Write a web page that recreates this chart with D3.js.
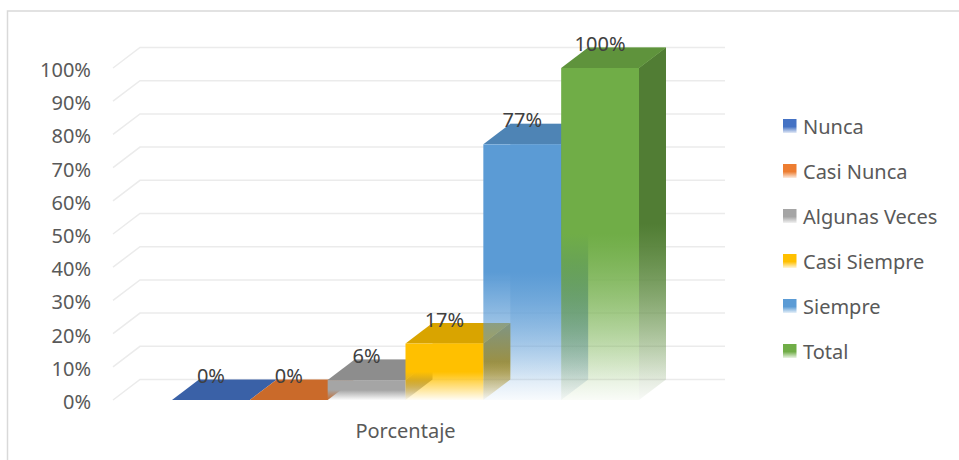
<!DOCTYPE html>
<html>
<head>
<meta charset="utf-8">
<script src="https://cdn.jsdelivr.net/npm/d3@7"></script>
<style>
  html, body { margin: 0; padding: 0; background: #fff; }
  svg { display: block; font-family: "Noto Sans", "Open Sans", sans-serif; }
</style>
</head>
<body>
<svg id="chart" width="959" height="460"></svg>
<script>
// ---- data ----
const categories = ["Porcentaje"];
const series = ["Nunca", "Casi Nunca", "Algunas Veces", "Casi Siempre", "Siempre", "Total"];
const values = [0.00, 0.00, 0.06, 0.17, 0.77, 1.00];
const valueLabels = ["0%", "0%", "6%", "17%", "77%", "100%"];
const yTicks = [0, 0.1, 0.2, 0.3, 0.4, 0.5, 0.6, 0.7, 0.8, 0.9, 1.0];

// ---- styles ----
const colors = ["#4472C4", "#ED7D31", "#A5A5A5", "#FFC000", "#5B9BD5", "#70AD47"];

const svg = d3.select("#chart");
const W = 959, H = 460;
const DX = 27, DY = 20.5;           // 3-D depth offset
const plotLeft = 113, plotRight = 698;

const y = d3.scaleLinear().domain([0, 1]).range([400, 68]);
const xCat = d3.scaleBand().domain(categories).range([172, 639]);
const xSer = d3.scaleBand().domain(series).range([xCat(categories[0]), xCat(categories[0]) + xCat.bandwidth()]);

// chart border (top & left visible)
svg.append("path")
  .attr("d", `M7.5,${H} L7.5,11 L${W},11`)
  .attr("fill", "none").attr("stroke", "#D9D9D9").attr("stroke-width", 1.5);

// gradients
const defs = svg.append("defs");
function grad(id, color, stops) {
  const g = defs.append("linearGradient").attr("id", id)
    .attr("x1", 0).attr("y1", 0).attr("x2", 0).attr("y2", 1);
  stops.forEach(s => g.append("stop").attr("offset", s[0]).attr("stop-color", color).attr("stop-opacity", s[1]));
}
const fadeStops = [[0, 1], [0.5, 1], [1, 0.04]];
const backStops = [[0, 0.9], [0.5, 0.8], [1, 0.05]];
colors.forEach((c, i) => {
  const base = d3.color(c);
  grad("front" + i, base.formatHex(), fadeStops);
  grad("side" + i, base.darker(0.9).formatHex(), fadeStops);
  grad("back" + i, d3.interpolateRgb(base, "#ffffff")(0.3), backStops);
  grad("leg" + i, base.formatHex(), [[0, 1], [0.55, 1], [1, 0.15]]);
});

// gridlines (3-D: front diagonal + back line)
const grid = svg.append("g");
yTicks.forEach(t => {
  const yf = y(t);
  grid.append("path")
    .attr("d", `M${plotLeft},${yf} L${plotLeft + DX},${yf - DY} L${plotRight + DX},${yf - DY}`)
    .attr("fill", "none").attr("stroke", "#EBEBEB").attr("stroke-width", 1.5);
});

// y axis
const yAxis = svg.append("g").attr("transform", "translate(91,0)")
  .call(d3.axisLeft(y).tickValues(yTicks).tickFormat(d3.format(".0%")).tickSize(0).tickPadding(0));
yAxis.select(".domain").remove();
yAxis.selectAll("text").attr("font-size", 20).attr("fill", "#595959")
  .attr("font-family", "Noto Sans, sans-serif").attr("dy", "0.42em");

// bars
const bars = series.map((s, i) => ({
  i, x0: xSer(s), x1: xSer(s) + xSer.bandwidth(), yt: y(values[i]), yb: y(0), v: values[i]
}));
const pts = a => a.map(p => p.join(",")).join(" ");
const g = svg.append("g");

// pass 1: back faces (visible through the fading front)
bars.filter(b => b.v > 0).forEach(b => {
  g.append("rect").attr("x", b.x0 + DX).attr("y", b.yt - DY)
    .attr("width", b.x1 - b.x0).attr("height", b.yb - b.yt)
    .attr("fill", `url(#back${b.i})`);
});

// pass 2: outer faces
bars.forEach(b => {
  const base = d3.color(colors[b.i]);
  if (b.v > 0) {
    g.append("polygon").attr("points", pts([[b.x1, b.yt], [b.x1 + DX, b.yt - DY], [b.x1 + DX, b.yb - DY], [b.x1, b.yb]]))
      .attr("fill", `url(#side${b.i})`);
  }
  g.append("polygon").attr("points", pts([[b.x0, b.yt], [b.x1, b.yt], [b.x1 + DX, b.yt - DY], [b.x0 + DX, b.yt - DY]]))
    .attr("fill", base.darker(0.45).formatHex());
  if (b.v > 0) {
    g.append("rect").attr("x", b.x0).attr("y", b.yt)
      .attr("width", b.x1 - b.x0).attr("height", b.yb - b.yt)
      .attr("fill", `url(#front${b.i})`);
  }
});

// data labels
svg.append("g").selectAll("text").data(bars).join("text")
  .attr("x", b => (b.x0 + b.x1) / 2)
  .attr("y", b => b.yt - DY + 3.5)
  .attr("text-anchor", "middle")
  .attr("font-size", 20).attr("fill", "#404040")
  .text(b => valueLabels[b.i]);

// category label
svg.append("g").selectAll("text").data(categories).join("text")
  .attr("x", d => xCat(d) + xCat.bandwidth() / 2)
  .attr("y", 438)
  .attr("text-anchor", "middle")
  .attr("font-size", 20).attr("fill", "#595959")
  .text(d => d);

// legend
const leg = svg.append("g").attr("transform", "translate(783,119)");
series.forEach((s, i) => {
  const row = leg.append("g").attr("transform", `translate(0,${i * 45})`);
  row.append("rect").attr("width", 13.5).attr("height", 14).attr("fill", `url(#leg${i})`);
  row.append("text").attr("x", 20).attr("y", 15).attr("font-size", 20).attr("fill", "#595959").text(s);
});
</script>
</body>
</html>
